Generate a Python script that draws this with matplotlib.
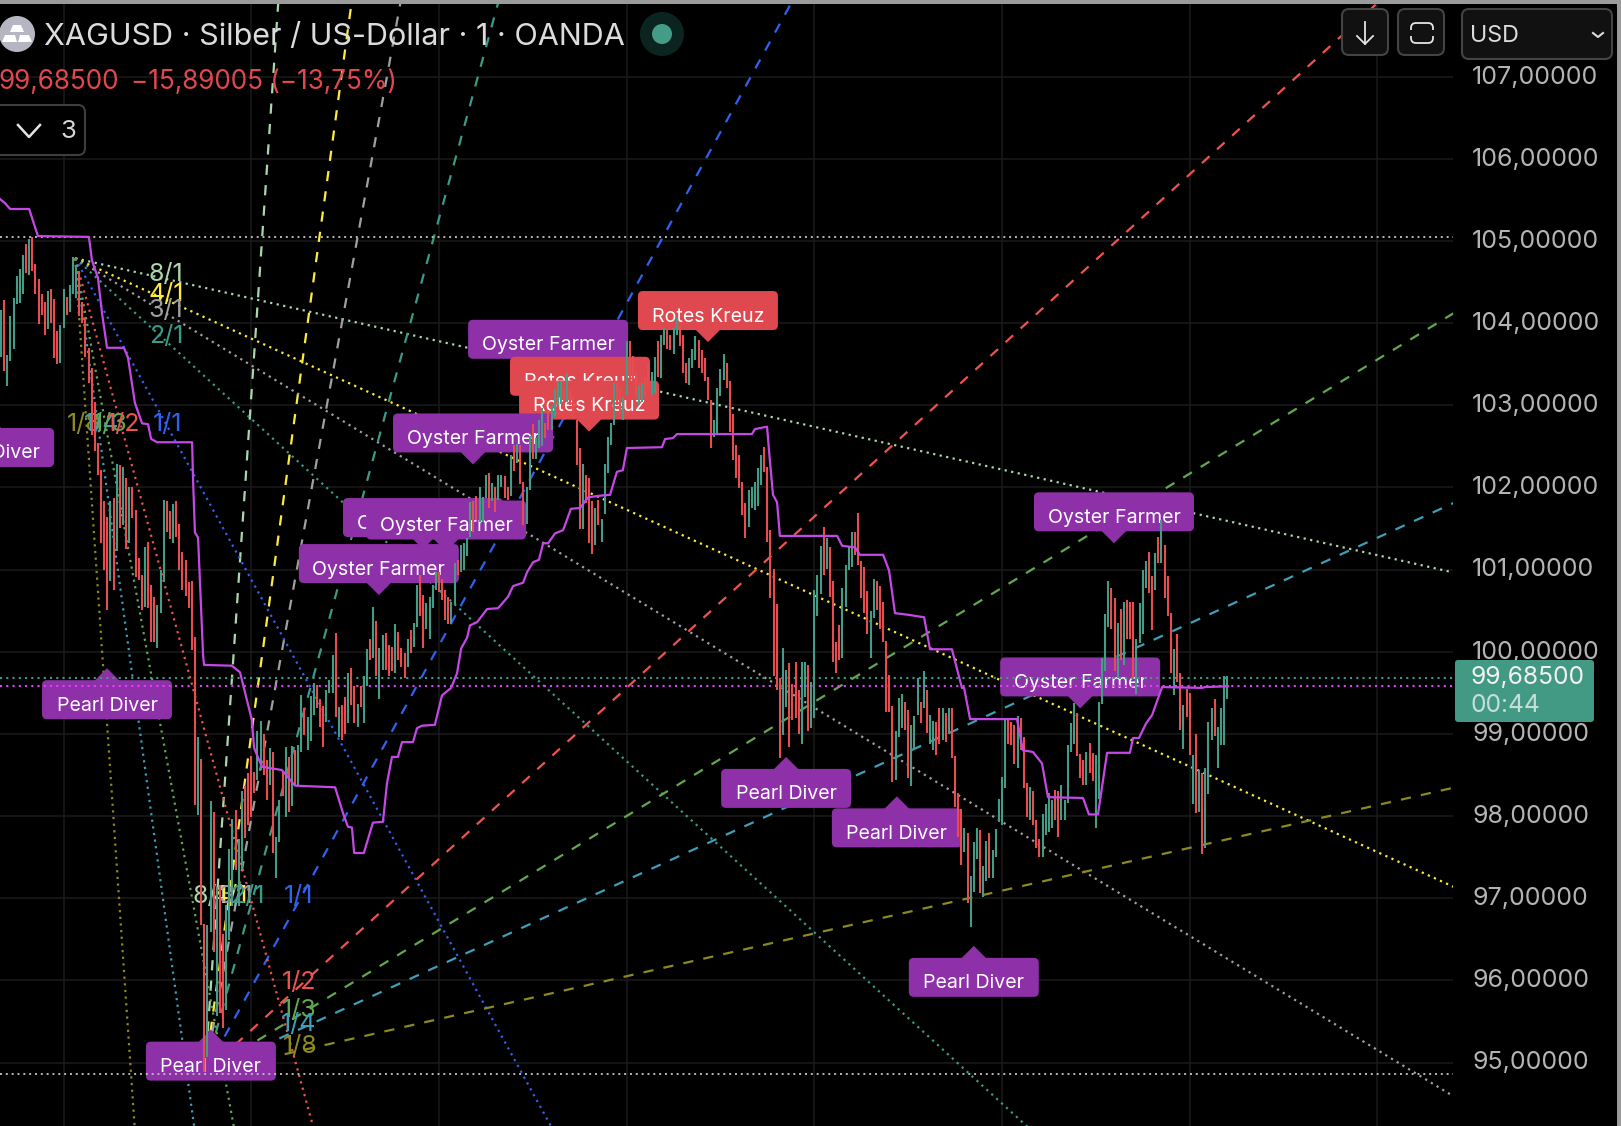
import matplotlib
matplotlib.use("Agg")
import matplotlib.pyplot as plt
from matplotlib.patches import FancyBboxPatch, Rectangle, Polygon, Circle
from matplotlib.transforms import Affine2D

plt.rcParams['font.family'] = ['Inter', 'DejaVu Sans']

# ---------- data ----------
bar_highs = [
 104.16,104.28,103.61,104.09,104.31,104.57,104.66,104.83,104.96,105.03,
 105.05,104.72,104.54,104.36,104.26,104.39,104.42,104.29,103.90,103.98,
 104.42,104.32,104.47,104.80,104.71,104.62,104.26,104.08,103.70,103.45,
 103.04,102.54,102.21,101.83,101.64,101.83,101.87,102.28,102.27,102.25,
 102.11,102.01,102.01,101.72,101.14,100.93,101.28,101.34,100.81,100.67,
 100.57,101.00,101.85,101.83,101.71,101.80,101.84,101.56,101.21,101.12,
 100.85,100.86,100.18,98.96,98.69,96.69,96.67,98.18,98.05,97.14,
 97.16,96.57,96.92,97.60,97.96,98.07,97.72,98.31,98.36,98.53,
 98.73,98.54,99.03,99.16,99.00,98.68,98.83,98.78,97.75,98.19,
 98.54,98.84,98.72,98.85,98.80,98.87,99.47,99.31,99.21,99.46,
 99.62,99.60,99.42,99.34,99.54,99.66,99.96,100.23,99.33,99.35,
 99.45,99.74,99.80,99.58,99.37,99.58,99.70,100.03,100.16,100.54,
 100.37,100.04,100.20,100.23,100.08,100.06,100.34,100.24,100.04,99.98,
 100.16,100.27,100.35,100.81,100.94,100.69,100.59,100.67,100.81,100.97,
 100.97,100.89,100.75,100.67,100.61,101.08,101.12,101.30,101.32,101.38,
 101.82,101.83,101.90,102.01,101.88,102.15,102.17,102.05,102.01,102.15,
 102.15,102.14,102.01,102.39,102.52,102.53,102.52,102.07,102.01,102.63,
 102.77,102.60,102.82,102.97,102.78,102.94,103.00,103.20,103.29,103.29,
 103.20,103.39,103.20,103.10,102.82,102.48,102.29,102.15,102.12,101.83,
 101.75,101.85,101.62,102.29,102.61,102.78,103.27,103.27,103.20,103.10,
 103.78,103.78,103.60,103.40,103.25,103.27,103.35,103.50,103.41,103.59,
 103.78,103.86,103.94,103.92,103.86,103.94,104.08,103.98,103.86,103.51,
 103.57,103.68,103.84,103.79,103.67,103.58,103.35,103.06,102.82,103.21,
 103.44,103.62,103.51,103.29,102.89,102.52,102.40,102.07,101.81,101.97,
 102.00,102.07,102.24,102.40,102.49,102.25,101.48,101.01,100.58,99.68,
 100.04,99.78,99.86,99.61,99.88,99.53,99.88,99.88,99.84,99.63,
 100.75,100.93,101.29,101.52,101.39,101.28,100.86,100.12,100.32,100.77,
 101.06,101.27,101.46,101.46,101.69,101.10,101.03,100.74,100.49,100.89,
 100.86,100.80,100.60,100.13,99.72,99.34,99.03,99.44,99.49,99.39,
 99.29,99.11,99.22,99.68,99.39,99.77,99.54,99.23,99.16,99.14,
 99.32,99.31,99.26,99.32,99.31,98.73,98.28,98.09,97.85,97.79,
 97.27,97.68,97.85,97.83,97.39,97.70,97.79,97.59,97.84,98.21,
 98.48,99.17,99.17,99.15,99.11,99.22,99.19,98.96,98.40,98.35,
 98.30,97.95,97.72,98.02,98.15,98.28,98.19,98.32,98.30,98.38,
 98.20,98.86,99.13,99.38,99.25,98.76,98.68,98.78,98.89,98.77,
 98.74,99.39,99.92,100.46,100.86,100.78,100.65,100.35,100.52,100.60,
 100.63,100.60,100.60,100.16,100.59,100.99,101.11,101.21,100.92,101.20,
 101.40,101.60,101.30,100.92,100.47,100.03,100.22,99.74,99.35,99.55,
 99.50,98.74,99.00,98.56,98.52,98.59,99.15,99.31,99.43,99.08,
 99.32,99.70,99.70]
bar_lows = [
 103.59,103.42,103.23,103.54,103.69,104.23,104.24,104.35,104.61,104.59,
 104.63,104.36,103.99,104.10,103.86,103.93,104.00,103.57,103.50,103.51,
 103.94,104.10,104.14,104.35,104.31,104.09,104.00,103.59,103.27,102.64,
 102.44,102.15,101.32,101.00,100.51,100.86,100.75,101.23,101.51,101.54,
 101.25,101.32,101.63,100.91,100.87,100.51,100.55,100.53,100.12,100.12,
 100.05,100.47,100.85,101.46,101.37,101.32,101.40,101.00,100.75,100.68,
 100.53,100.02,98.14,98.01,96.67,94.88,95.07,96.59,96.35,95.56,
 95.60,95.42,95.64,96.49,96.90,97.34,96.90,97.34,97.73,97.89,
 97.99,98.28,98.44,98.56,98.50,98.20,98.38,97.55,97.25,97.69,
 98.24,97.99,98.05,98.12,98.36,98.37,98.78,98.99,98.81,98.91,
 99.23,99.31,99.09,98.84,99.15,99.50,99.50,99.21,98.96,98.92,
 99.00,99.13,99.35,99.13,99.09,99.33,99.13,99.58,99.90,99.92,
 99.70,99.42,99.78,99.78,99.70,99.76,99.74,99.90,99.82,99.68,
 99.82,99.98,100.06,100.30,100.43,100.04,100.28,100.16,100.53,100.75,
 100.73,100.63,100.39,100.34,100.34,100.57,100.93,100.97,100.99,101.16,
 101.40,101.46,101.60,101.58,101.58,101.87,101.75,101.83,101.70,101.85,
 102.01,101.87,101.85,101.89,102.20,102.30,102.04,101.54,101.56,101.97,
 102.35,102.35,102.48,102.50,102.60,102.70,102.70,102.86,103.00,103.02,
 103.05,103.04,103.00,102.85,102.27,101.49,101.50,101.81,101.32,101.19,
 101.30,101.54,101.34,101.68,102.17,102.52,102.76,103.00,102.90,102.82,
 103.13,103.33,103.30,103.10,103.00,103.04,103.10,103.20,103.13,103.15,
 103.34,103.33,103.73,103.68,103.67,103.63,103.86,103.72,103.39,103.27,
 103.25,103.45,103.55,103.45,103.39,103.29,103.06,102.48,102.62,102.65,
 103.11,103.31,103.21,102.68,102.33,102.11,101.99,101.66,101.38,101.52,
 101.75,101.73,101.77,102.03,102.19,101.34,100.66,99.70,99.53,98.71,
 98.99,99.33,98.84,99.17,99.19,99.00,98.88,99.45,99.03,99.07,
 99.19,100.43,100.70,100.93,101.01,100.67,99.87,99.74,99.90,99.92,
 100.55,100.99,101.03,101.18,101.06,100.66,100.47,100.22,99.93,100.41,
 100.51,100.28,100.12,99.27,99.27,98.41,98.44,98.96,99.07,99.05,
 98.46,98.36,98.80,99.23,99.13,99.31,99.01,98.88,98.80,98.74,
 98.88,98.92,98.90,99.00,98.71,98.11,97.74,97.41,97.56,96.94,
 96.65,97.08,97.48,97.06,97.02,97.21,97.24,97.24,97.50,97.93,
 97.89,98.34,98.88,98.86,98.63,98.58,98.81,98.34,97.99,97.95,
 97.89,97.61,97.50,97.50,97.77,97.80,97.85,97.95,97.74,97.95,
 97.95,98.16,98.78,98.88,98.73,98.46,98.38,98.38,98.52,98.43,
 97.86,98.21,99.37,99.76,100.30,100.28,99.76,99.68,99.90,99.84,
 100.16,100.16,99.68,99.48,100.11,100.22,100.78,100.71,100.26,100.75,
 101.08,101.08,100.66,100.43,99.74,99.47,99.63,99.05,98.82,99.20,
 98.74,98.15,98.04,98.05,97.54,97.61,98.27,98.92,98.97,98.58,
 98.86,98.86,99.42]
bar_dirs = ("GRGGGGGGRG" "RRRRRGRRRG" "GRGGGRRRRR" "RRRRRGRGRG" "RGRRRRGRRR"
            "GGGRRGRRRR" "RRRGRRGGRG" "RRGGGRGGRR" "RRGGRRGRGG" "RGRGRGGRGG"
            "GRRRGGGRGR" "RGRRGRGGRG" "RGGRRRGRRR" "GRGGRRGGGG" "RRRRGGRGGG"
            "GRRGGGRGRG" "GRRGRGRRGG" "RGGGRRGGGG" "RGRRRRGRRR" "GRGGGGGRRG"
            "GRRRGGRRGG" "RGGRRGGRRR" "GGGRRRRRGG" "GGRRRRRRRG" "GGGGRRRRRR"
            "GGRRRRGGRG" "GGGRGRRRRG" "GGGRRRRRGG" "RRRRRRGGGR" "RGGGRGRGGR"
            "RGRGRRRRGR" "GGGRGGRGGG" "GGRRRGRRRG" "RRRGGGGRRG" "GGGGRRRGRR"
            "GGGGGRRGRG" "RRRGGGGRRG" "RGRRRGRRGR" "RGRGRGGGRG" "GGG")

line_idx = [-0.3,1.3,2.9,9.0,11.8,28.1,29.1,31.0,32.3,33.9,39.3,40.6,42.8,45.1,47.0,48.0,49.9,61.1,61.4,62.0,
 63.0,64.6,64.9,73.8,76.4,80.2,80.9,83.4,89.8,94.0,106.8,109.3,110.9,112.2,112.9,116.0,118.9,122.1,123.4,125.0,
 126.9,128.2,131.7,133.0,134.6,138.7,141.0,143.9,145.8,147.1,149.0,149.9,152.2,155.4,158.9,162.1,163.7,166.9,168.2,170.1,
 172.0,173.3,174.9,177.1,179.7,182.2,185.1,187.7,191.5,194.7,196.9,198.8,200.1,211.3,212.3,214.8,216.1,240.1,241.0,244.9,
 245.8,246.8,248.1,249.0,267.3,268.9,273.0,274.6,282.0,283.9,285.8,290.0,295.1,297.0,304.0,307.2,307.9,309.8,324.8,326.7,
 329.9,332.8,334.7,345.9,347.8,350.7,353.6,360.9,361.9,363.8,366.1,368.0,371.2,384.0,384.9,392.3]
line_val = [105.51,105.46,105.39,105.39,105.06,105.05,104.76,104.55,104.12,103.70,103.70,103.58,103.03,102.78,102.77,102.59,102.55,102.55,102.09,101.45,
 101.39,99.96,99.84,99.83,99.75,99.17,98.83,98.60,98.56,98.37,98.35,98.04,97.87,97.86,97.55,97.55,97.92,97.93,98.40,98.72,
 98.72,98.90,98.90,99.07,99.10,99.11,99.47,99.56,99.74,100.04,100.17,100.32,100.36,100.52,100.53,100.67,100.80,100.84,100.97,101.09,
 101.12,101.32,101.32,101.44,101.48,101.74,101.75,101.88,101.90,101.91,102.19,102.21,102.48,102.49,102.59,102.60,102.65,102.65,102.71,102.74,
 102.33,101.91,101.82,101.41,101.41,101.29,101.27,101.18,101.18,100.99,100.47,100.45,100.42,100.03,100.03,99.56,99.56,99.18,99.18,98.80,
 98.78,98.64,98.23,98.22,98.02,98.02,98.77,98.77,98.95,98.95,99.13,99.23,99.57,99.56,99.57,99.58]

label_names = ["Oyster Farmer","Rotes Kreuz","Rotes Kreuz","Rotes Kreuz","Oyster Farmer","Oyster Farmer","Oyster Farmer",
               "Oyster Farmer","Oyster Farmer","Oyster Farmer","Pearl Diver","Pearl Diver","Pearl Diver","Pearl Diver",
               "Pearl Diver","Pearl Diver"]
label_bars = [174.9,185.1,188.0,226.0,150.9,134.9,142.3,120.8,355.8,345.0,-3.8,33.9,67.1,251.0,286.4,311.0]
label_prices = [103.42,102.97,102.68,103.77,102.28,101.25,101.22,100.69,101.32,99.31,102.87,99.80,95.40,98.72,98.24,96.42]

fan_names = ["8/1","4/1","3/1","2/1","1/1","1/2","1/3","1/4","1/8"]
fan_ratios = [8, 4, 3, 2, 1, 1/2, 1/3, 1/4, 1/8]
fan_colors = ["#a9d8ab","#ffeb3b","#a0a0a0","#3b9a88","#2f62f0","#ef5350","#62a84e","#3d9fb8","#8c8a1c"]
fan_high = (23.7, 104.79)
fan_low = (65.2, 94.88)
fan_unit = 0.06945

price_ticks = [95,96,97,98,99,100,101,102,103,104,105,106,107]
time_ticks = [20,80,140,200,260,320,380,440]
level_high = 105.05
level_low = 94.86
last_price = 99.685
line_last = 99.58

# ---------- figure ----------
W, H = 1621, 1126
fig = plt.figure(figsize=(W/100, H/100), dpi=100, facecolor="black")
ax = fig.add_axes([0, 0, 1453/W, 1], facecolor="black")
ax.set_xlim(-1/3.128, 1452/3.128)
ax.set_ylim(107 - (H-76.7)/82.15, 107 + 76.7/82.15)
T = Affine2D().scale(1, -1).translate(0, H)   # screen pixels, origin top left

for s in ax.spines.values():
    s.set_visible(False)
ax.set_axisbelow(True)
ax.set_xticks(time_ticks)
ax.set_xticklabels([])
ax.set_yticks(price_ticks)
ax.set_yticklabels([f"{p:.5f}".replace(".", ",") for p in price_ticks])
ax.yaxis.tick_right()
ax.tick_params(axis="both", length=0)
ax.tick_params(axis="y", pad=13.7, labelsize=18, labelcolor="#b4b4b4")
for lab in ax.get_yticklabels():
    lab.set_transform(lab.get_transform() + Affine2D().translate(0, 2.2))
ax.grid(True, color="#1b1b1b", lw=1.1)

# fans
DOT = (0, (1.0, 2.0))
DASH = (0, (4.6, 4.6))
for r, c in zip(fan_ratios, fan_colors):
    x0, y0 = fan_high
    ax.plot([x0, 480], [y0, y0 - fan_unit/r*(480-x0)], color=c, lw=1.6, ls=DOT, zorder=3)
    x0, y0 = fan_low
    ax.plot([x0, 480], [y0, y0 + fan_unit*r*(480-x0)], color=c, lw=1.6, ls=DASH, zorder=3)

fan_text = [("8/1",166,274),("4/1",166,295),("3/1",166,310),("2/1",166,337),
            ("1/8",84,424),("1/4",102,424),("1/3",110,424),("1/2",123,424),("1/1",168,424),
            ("8/1",210,897),("4/1",230,897),("3/1",236,897),("2/1",247,897),("1/1",299,897),
            ("1/2",299,983),("1/3",299,1010),("1/4",299,1025),("1/8",300,1047)]
fan_col = dict(zip(fan_names, fan_colors))
for s, x, y in fan_text:
    ax.text(x, y, s, transform=T, color=fan_col[s], fontsize=18, ha="center", va="center", zorder=3.5)

# labels
styles = {"Oyster Farmer": (160, 39, "#8e30a8", -1),
          "Rotes Kreuz": (140, 39, "#e0484f", -1),
          "Pearl Diver": (130, 39, "#8e30a8", 1)}
for k, (name, bi, pr) in enumerate(zip(label_names, label_bars, label_prices)):
    w, h, col, d = styles[name]
    tx, ty = T.inverted().transform(ax.transData.transform((bi, pr)))
    z = 4 + k*0.1
    if d == 1:
        top = ty + 12
    else:
        top = ty - 12 - h
    ax.add_patch(FancyBboxPatch((tx-w/2, top), w, h, boxstyle="round,pad=0,rounding_size=5",
                                transform=T, fc=col, ec="none", zorder=z))
    base = top if d == 1 else top + h
    ax.add_patch(Polygon([(tx-13, base+d*1), (tx, ty), (tx+13, base+d*1)], transform=T, fc=col, ec="none", zorder=z))
    ax.text(tx, top + h/2 + 6, name, transform=T, color="white", fontsize=14.1, ha="center", va="center", zorder=z+0.01)

# levels
ax.axhline(level_high, color="#b8b8b8", lw=1.4, ls=DOT, zorder=6)
ax.axhline(level_low, color="#b8b8b8", lw=1.4, ls=DOT, zorder=6)
ax.axhline(last_price, color="#3f9a84", lw=1.5, ls=DOT, zorder=6)
ax.axhline(line_last, color="#e040fb", lw=1.5, ls=DOT, zorder=6)

# bars
n = len(bar_dirs)
colors = ["#459c86" if d == "G" else "#e64c50" for d in bar_dirs]
ax.vlines(list(range(n)), bar_lows[:n], bar_highs[:n], colors=colors, lw=1.5, zorder=10, capstyle="butt")

# line
ax.plot(line_idx, line_val, color="#c548e6", lw=1.6, zorder=11, solid_joinstyle="round")

# ---------- chrome ----------
Z = 30
def txt(x, y, s, **kw):
    kw.setdefault("va", "center"); kw.setdefault("ha", "left")
    ax.text(x, y, s, transform=T, zorder=Z+2, clip_on=False, **kw)
def box(x, y, w, h, fc, ec, r=7, lw=1.5):
    ax.add_patch(FancyBboxPatch((x, y), w, h, boxstyle=f"round,pad=0,rounding_size={r}", transform=T,
                                fc=fc, ec=ec, lw=lw, zorder=Z, clip_on=False))
def poly(pts, **kw):
    ax.plot([p[0] for p in pts], [p[1] for p in pts], transform=T, zorder=Z+1, clip_on=False, **kw)

# price tag
box(1455, 660, 139, 62, "#439a84", "none", r=3, lw=0)
txt(1471, 678, "99,68500", color="#f2f2f2", fontsize=17.7)
txt(1471, 706, "00:44", color="#c5dfd8", fontsize=17.7)

# header
ax.add_patch(Circle((17, 34), 18, transform=T, fc="#b6b6c2", ec="none", zorder=Z, clip_on=False))
ax.add_patch(Polygon([(13,25),(21,25),(24,32),(10,32)], transform=T, fc="white", ec="none", zorder=Z+1, clip_on=False))
ax.add_patch(Polygon([(5,35),(15,35),(17,42),(2,42)], transform=T, fc="white", ec="none", zorder=Z+1, clip_on=False))
ax.add_patch(Polygon([(20,35),(29,35),(32,42),(18,42)], transform=T, fc="white", ec="none", zorder=Z+1, clip_on=False))
txt(44, 37, "XAGUSD · Silber / US-Dollar · 1 · OANDA", color="#dcdcdc", fontsize=22)
ax.add_patch(Circle((662, 34), 22, transform=T, fc="#0c2420", ec="none", zorder=Z, clip_on=False))
ax.add_patch(Circle((662, 34), 10, transform=T, fc="#459c86", ec="none", zorder=Z+1, clip_on=False))
txt(-2, 82, "99,68500", color="#e0484f", fontsize=18.8)
txt(131, 82, "−15,89005 (−13,75%)", color="#e0484f", fontsize=18.8)

# collapse button
box(-8, 105, 93, 50, "black", "#3e3e3e", r=7)
poly([(18,125),(29,137),(40,125)], color="#e4e4e4", lw=1.8)
txt(68, 132, "3", color="#d8d8d8", fontsize=18.5, ha="center")

# top right buttons
box(1342, 9, 46, 46, "#111111", "#444444")
poly([(1365,22),(1365,44)], color="#e4e4e4", lw=1.3)
poly([(1357,36),(1365,44),(1373,36)], color="#e4e4e4", lw=1.3)
box(1398, 9, 46, 46, "#111111", "#444444")
box(1411, 23, 22, 20, "none", "#e4e4e4", r=5, lw=1.3)
ax.add_patch(Rectangle((1408, 30), 28, 6, transform=T, fc="#111111", ec="none", zorder=Z+1, clip_on=False))
box(1462, 9, 150, 50, "#111111", "#444444")
txt(1470, 36, "USD", color="#dcdcdc", fontsize=16.8)
poly([(1593,33),(1598,37),(1603,33)], color="#dcdcdc", lw=1.5)

# window edges
ax.add_patch(Rectangle((0, 0), W, 4, transform=T, fc="#9a9a9a", ec="none", zorder=Z+5, clip_on=False))
ax.add_patch(Rectangle((1617, 0), 4, H, transform=T, fc="#9a9a9a", ec="none", zorder=Z+5, clip_on=False))

fig.savefig("out.png", dpi=100, facecolor="black")
